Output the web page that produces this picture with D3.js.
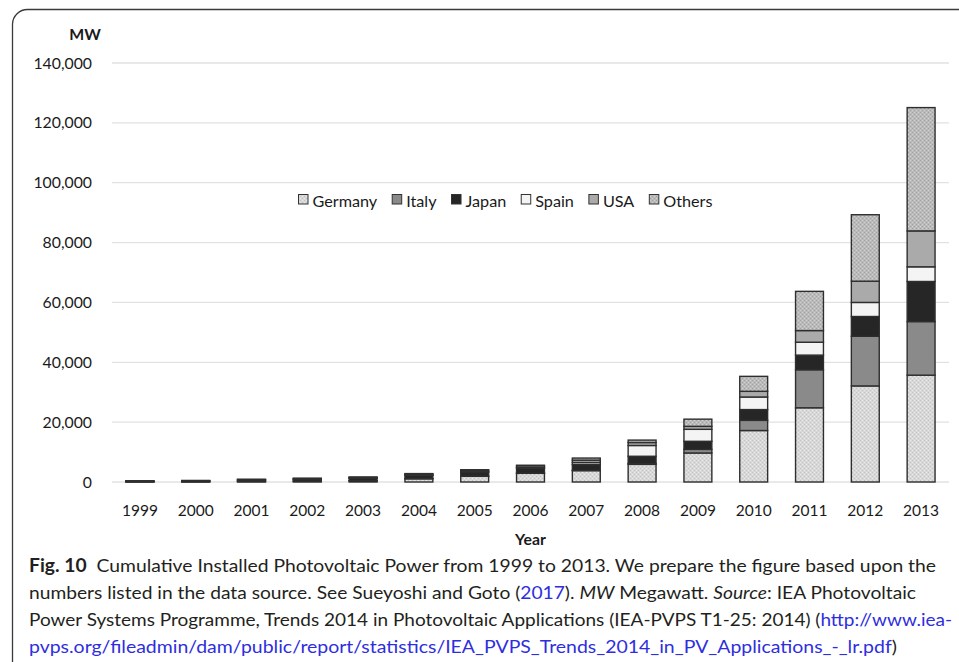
<!DOCTYPE html>
<html><head><meta charset="utf-8">
<script src="https://cdn.jsdelivr.net/npm/d3@7"></script>
<style>html,body{margin:0;padding:0;background:#fff;} svg{display:block}</style>
</head><body><svg id="c" width="959" height="662"></svg>
<script>
// ---- data ----
const years = ["1999","2000","2001","2002","2003","2004","2005","2006","2007","2008","2009","2010","2011","2012","2013"];
const seriesNames = ["Germany","Italy","Japan","Spain","USA","Others"];
const germany = [50, 80, 180, 280, 410, 1100, 1900, 2900, 3800, 5900, 9700, 17200, 24800, 32100, 35700];
const italy   = [20, 20, 20, 20, 30, 30, 40, 50, 100, 300, 1200, 3400, 12700, 16600, 17900];
const japan   = [200, 250, 450, 640, 860, 1130, 1400, 1700, 1900, 2400, 2700, 3600, 4900, 6600, 13400];
const spain   = [5, 5, 5, 10, 10, 20, 60, 150, 700, 3600, 4000, 4200, 4300, 4700, 4900];
const usa     = [80, 100, 170, 210, 270, 380, 480, 620, 800, 1000, 1000, 1900, 3900, 7100, 12000];
const others  = [40, 50, 80, 100, 80, 150, 220, 180, 700, 800, 2400, 5000, 13100, 22200, 41200];
const yTicks  = [0, 20000, 40000, 60000, 80000, 100000, 120000, 140000];
const yUnit = "MW";
const xTitle = "Year";

const seriesValues = {Germany: germany, Italy: italy, Japan: japan, Spain: spain, USA: usa, Others: others};
const rows = years.map((yr, i) => {
  const r = {year: yr};
  seriesNames.forEach(k => r[k] = seriesValues[k][i]);
  return r;
});

const svg = d3.select("#c");
const defs = svg.append("defs");
function dotPattern(id, bg, dark, light) {
  const p = defs.append("pattern").attr("id", id).attr("width", 4).attr("height", 4)
    .attr("patternUnits", "userSpaceOnUse");
  p.append("rect").attr("width", 4).attr("height", 4).attr("fill", bg);
  p.append("rect").attr("x", 0).attr("y", 0).attr("width", 1).attr("height", 1).attr("fill", dark);
  p.append("rect").attr("x", 2).attr("y", 2).attr("width", 1).attr("height", 1).attr("fill", dark);
  p.append("rect").attr("x", 2).attr("y", 0).attr("width", 1).attr("height", 1).attr("fill", light);
  p.append("rect").attr("x", 0).attr("y", 2).attr("width", 1).attr("height", 1).attr("fill", light);
}
dotPattern("pGer", "#d8d8d8", "#c2c2c2", "#e8e8e8");
dotPattern("pOth", "#bababa", "#a2a2a2", "#d2d2d2");

const fills = {Germany: "url(#pGer)", Italy: "#8a8a8a", Japan: "#262626", Spain: "#f4f4f4", USA: "#aaaaaa", Others: "url(#pOth)"};

const x = d3.scaleBand().domain(years).range([112, 949]).paddingInner(0.5).paddingOuter(0.25);
const y = d3.scaleLinear().domain([0, 140000]).range([482, 63]);

const chartFont = "Lato, 'Open Sans', sans-serif";

// frame
svg.append("path")
  .attr("d", "M12.5,662 L12.5,24 A15,15 0 0 1 27.5,9.5 L959,9.5")
  .attr("fill", "none").attr("stroke", "#3a3a3a").attr("stroke-width", 1.3);

// gridlines
svg.append("g").selectAll("line").data(yTicks).join("line")
  .attr("x1", 112).attr("x2", 949)
  .attr("y1", d => y(d)).attr("y2", d => y(d))
  .attr("stroke", "#e2e2e2").attr("stroke-width", 1.3);

// y axis
const yAxis = svg.append("g").attr("transform", "translate(92,0)")
  .call(d3.axisLeft(y).tickValues(yTicks).tickSize(0).tickPadding(0).tickFormat(d3.format(",")));
yAxis.select(".domain").remove();
yAxis.selectAll("text").attr("font-family", chartFont).attr("font-size", 15.8).attr("fill", "#1a1a1a");

// x axis
const xAxis = svg.append("g").attr("transform", "translate(0,482)")
  .call(d3.axisBottom(x).tickSize(0).tickPadding(0));
xAxis.select(".domain").remove();
xAxis.selectAll("text").attr("dy", null).attr("y", 33.5)
  .attr("font-family", chartFont).attr("font-size", 15.5).attr("fill", "#1a1a1a");

// titles
svg.append("text").attr("x", 85).attr("y", 40).attr("text-anchor", "middle")
  .attr("font-family", chartFont).attr("font-size", 15.8).attr("font-weight", "bold").attr("fill", "#1a1a1a")
  .text(yUnit);
svg.append("text").attr("x", 530.5).attr("y", 545).attr("text-anchor", "middle")
  .attr("font-family", chartFont).attr("font-size", 15.8).attr("font-weight", "bold").attr("fill", "#1a1a1a")
  .text(xTitle);

// bars
const stacked = d3.stack().keys(seriesNames)(rows);
svg.append("g").selectAll("g").data(stacked).join("g")
  .attr("fill", d => fills[d.key])
  .selectAll("rect").data(d => d).join("rect")
  .attr("x", d => x(d.data.year))
  .attr("width", x.bandwidth())
  .attr("y", d => y(d[1]))
  .attr("height", d => y(d[0]) - y(d[1]))
  .attr("stroke", "#2e2e2e").attr("stroke-width", 1.4);

// legend
const leg = svg.append("g");
let lx = 298.5;
seriesNames.forEach(name => {
  leg.append("rect").attr("x", lx).attr("y", 194.5).attr("width", 9.5).attr("height", 9.5)
    .attr("fill", fills[name]).attr("stroke", "#333").attr("stroke-width", 1);
  const t = leg.append("text").attr("x", lx + 14).attr("y", 206.5)
    .attr("font-family", chartFont).attr("font-size", 16.2).attr("fill", "#1a1a1a").text(name);
  lx += 14 + t.node().getComputedTextLength() + 15;
});

// caption
const capFont = "Lato, 'Open Sans', sans-serif";
const blue = "#2e2ee0";
const captionLines = [
  {y: 572, w: 907, parts: [{t: "Fig. 10", b: true}, {t: "\u00a0\u00a0Cumulative Installed Photovoltaic Power from 1999 to 2013. We prepare the figure based upon the"}]},
  {y: 599, w: 887, parts: [{t: "numbers listed in the data source. See Sueyoshi and Goto ("}, {t: "2017", c: blue}, {t: "). "}, {t: "MW", i: true}, {t: " Megawatt. "}, {t: "Source", i: true}, {t: ": IEA Photovoltaic"}]},
  {y: 626, w: 923, parts: [{t: "Power Systems Programme, Trends 2014 in Photovoltaic Applications (IEA-PVPS T1-25: 2014) ("}, {t: "http://www.iea-", c: blue}]},
  {y: 653, w: 868, parts: [{t: "pvps.org/fileadmin/dam/public/report/statistics/IEA_PVPS_Trends_2014_in_PV_Applications_-_lr.pdf", c: blue}, {t: ")"}]}
];
captionLines.forEach(line => {
  const t = svg.append("text").attr("x", 29).attr("y", line.y)
    .attr("font-family", capFont).attr("font-size", 18).attr("fill", "#231f20");
  line.parts.forEach(p => {
    const s = t.append("tspan").text(p.t);
    if (p.b) s.attr("font-weight", "bold");
    if (p.i) s.attr("font-style", "italic");
    if (p.c) s.attr("fill", p.c);
  });
  t.attr("textLength", line.w).attr("lengthAdjust", "spacingAndGlyphs");
});
</script></body></html>
